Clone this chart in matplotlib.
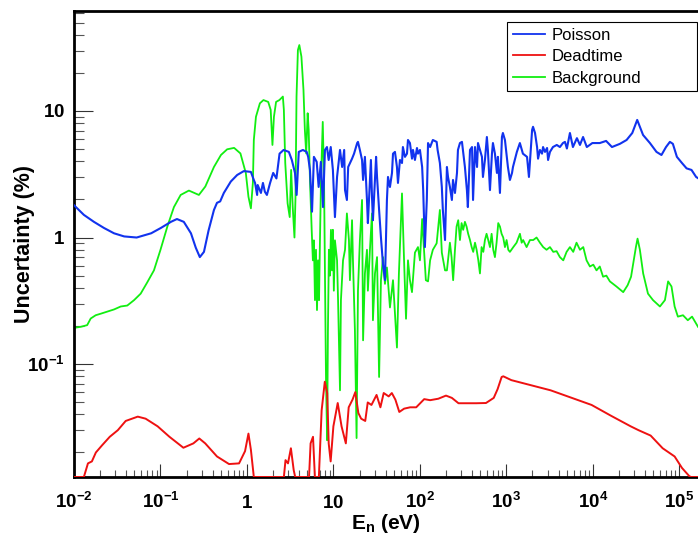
"""
Uncertainty components vs neutron energy (ROOT-style log-log plot).
"""
import numpy as np
import matplotlib
matplotlib.use('Agg')
import matplotlib.pyplot as plt
from matplotlib.ticker import FixedLocator, FixedFormatter, LogLocator, NullFormatter

# Poisson (statistical) uncertainty, %
poisson_energy = [
    0.0100, 0.0130, 0.0170, 0.0222, 0.029, 0.038, 0.053, 0.078, 0.101, 0.132,
    0.155, 0.186, 0.225, 0.256, 0.285, 0.318, 0.36, 0.415, 0.45, 0.49,
    0.54, 0.65, 0.77, 0.92, 1.11, 1.20, 1.24, 1.31, 1.33, 1.45,
    1.53, 1.61, 1.70, 1.85, 2.01, 2.19, 2.38, 2.65, 3.05, 3.30,
    3.59, 3.75, 3.97, 4.43, 4.90, 5.10, 5.35, 5.65, 5.94, 6.40,
    6.74, 7.15, 7.57, 7.97, 8.41, 8.80, 9.30, 9.85, 10.4, 11.0,
    11.9, 12.6, 13.3, 13.6, 14.3, 14.8, 16.4, 17.3, 18.8, 19.2,
    20.2, 21.4, 22.0, 23.1, 24.4, 25.0, 27.1, 27.9, 28.6, 31.1,
    31.9, 33.7, 35.4, 37.4, 39.4, 41.5, 42.7, 45.0, 47.5, 48.8,
    51.4, 54.2, 55.7, 58.7, 62.0, 63.5, 67.1, 70.8, 72.7, 76.6,
    80.9, 83.1, 87.5, 92.4, 94.9, 100, 106, 109, 114, 120,
    124, 131, 141, 156, 160, 170, 179, 184, 195, 205,
    211, 222, 234, 241, 254, 268, 275, 290, 306, 314,
    331, 349, 358, 379, 400, 411, 433, 457, 469, 494,
    521, 535, 564, 594, 610, 645, 680, 698, 736, 776,
    797, 841, 887, 910, 961, 1010, 1040, 1097, 1160, 1190,
    1250, 1320, 1430, 1550, 1730, 1820, 1980, 2030, 2140, 2260,
    2320, 2440, 2580, 2650, 2790, 2950, 3030, 3185, 3450, 3820,
    4150, 4500, 4750, 5000, 5420, 5870, 6530, 7080, 7690, 8500,
    9850, 1.20e4, 1.42e4, 1.66e4, 2.05e4, 2.45e4, 2.85e4, 3.15e4, 3.25e4, 3.49e4,
    3.80e4, 4.56e4, 5.43e4, 6.20e4, 7.00e4, 7.76e4, 8.40e4, 9.35e4, 1.07e5, 1.21e5,
    1.38e5, 1.56e5, 1.70e5,
]
poisson_unc = [
    1.80, 1.51, 1.33, 1.19, 1.08, 1.02, 1.00, 1.08, 1.19, 1.33,
    1.40, 1.33, 1.08, 0.83, 0.70, 0.77, 1.14, 1.65, 1.88, 1.93,
    2.25, 2.77, 3.12, 3.35, 3.30, 2.85, 2.70, 2.17, 2.60, 2.25,
    2.70, 2.30, 2.17, 2.70, 3.24, 2.93, 4.60, 4.92, 4.75, 4.10,
    3.24, 2.17, 4.75, 4.92, 4.75, 4.34, 3.42, 1.60, 4.34, 3.96,
    2.51, 3.96, 1.74, 4.92, 5.19, 4.10, 5.19, 3.42, 1.45, 3.01,
    4.92, 3.61, 4.92, 2.37, 1.98, 3.61, 4.20, 4.60, 5.58, 5.70,
    4.92, 4.10, 2.85, 4.34, 1.98, 1.30, 4.10, 2.08, 1.37, 4.34,
    3.01, 1.65, 1.00, 0.61, 0.46, 1.98, 3.01, 2.51, 3.24, 4.60,
    4.75, 3.61, 2.70, 4.10, 3.88, 5.19, 4.34, 4.60, 5.90, 5.58,
    4.20, 4.92, 4.10, 5.10, 4.60, 4.92, 3.61, 2.37, 0.84, 1.98,
    5.58, 5.19, 5.90, 5.70, 4.92, 3.88, 2.51, 1.65, 0.955, 3.61,
    3.01, 2.51, 1.98, 2.85, 2.25, 3.24, 4.92, 5.58, 5.70, 4.92,
    3.61, 2.37, 1.74, 4.92, 5.19, 1.98, 5.19, 3.61, 5.58, 4.92,
    4.34, 3.01, 4.10, 6.23, 4.92, 2.37, 4.60, 5.58, 4.60, 3.24,
    4.34, 2.25, 6.23, 6.70, 5.90, 4.34, 3.61, 2.85, 3.24, 3.61,
    4.10, 4.75, 5.58, 4.60, 4.34, 3.01, 7.08, 7.50, 6.70, 5.19,
    4.20, 4.92, 4.60, 5.19, 4.75, 5.10, 4.10, 4.75, 5.19, 5.39,
    5.19, 5.58, 5.70, 5.05, 6.70, 5.19, 6.10, 5.39, 6.23, 5.19,
    5.58, 5.58, 5.80, 5.19, 5.50, 5.90, 6.70, 8.00, 8.50, 7.50,
    6.46, 5.58, 4.75, 4.49, 5.19, 5.70, 5.50, 4.34, 3.88, 3.52,
    3.42, 3.01, 2.90,
]

# Background subtraction uncertainty, %
bg_energy = [
    0.0100, 0.0120, 0.0142, 0.0156, 0.0178, 0.0204, 0.0243, 0.029, 0.0347, 0.0413,
    0.0495, 0.059, 0.070, 0.084, 0.100, 0.120, 0.143, 0.171, 0.213, 0.278,
    0.33, 0.415, 0.50, 0.59, 0.71, 0.84, 0.97, 1.04, 1.11, 1.17,
    1.20, 1.27, 1.41, 1.55, 1.76, 1.88, 1.97, 2.05, 2.17, 2.37,
    2.60, 2.67, 2.77, 2.95, 3.12, 3.24, 3.38, 3.54, 3.64, 3.74,
    3.88, 4.03, 4.26, 4.50, 4.67, 4.84, 5.03, 5.17, 5.35, 5.60,
    5.78, 5.94, 6.11, 6.28, 6.45, 6.63, 6.81, 6.98, 7.18, 7.52,
    7.78, 7.99, 8.20, 8.45, 8.63, 8.86, 9.11, 9.35, 9.60, 9.85,
    10.1, 10.4, 11.0, 11.3, 11.9, 12.2, 12.9, 13.6, 14.3, 15.1,
    15.5, 16.4, 16.8, 17.7, 18.5, 19.2, 20.2, 21.4, 22.0, 23.1,
    24.4, 25.0, 26.4, 27.9, 28.6, 30.2, 31.9, 33.7, 35.4, 37.4,
    39.4, 41.5, 45.0, 48.8, 54.2, 57.1, 62.0, 65.5, 69.0, 72.7,
    76.6, 80.9, 87.5, 94.9, 100, 106, 111, 117, 124, 131,
    141, 156, 170, 179, 195, 205, 222, 232, 242, 254,
    265, 277, 290, 303, 316, 331, 346, 361, 379, 396,
    413, 433, 452, 473, 494, 516, 540, 564, 589, 616,
    645, 674, 704, 736, 769, 804, 841, 879, 918, 961,
    1004, 1050, 1097, 1200, 1310, 1432, 1500, 1560, 1710, 1870,
    2040, 2230, 2440, 2660, 2910, 3185, 3480, 3800, 4150, 4540,
    4960, 5420, 5920, 6460, 7080, 7730, 8440, 9230, 1.01e4, 1.10e4,
    1.20e4, 1.31e4, 1.43e4, 1.57e4, 1.87e4, 2.24e4, 2.52e4, 2.76e4, 3.00e4, 3.14e4,
    3.28e4, 3.49e4, 3.81e4, 4.33e4, 4.95e4, 5.95e4, 6.80e4, 7.40e4, 8.10e4, 8.80e4,
    9.60e4, 1.10e5, 1.25e5, 1.40e5, 1.64e5,
]
bg_unc = [
    0.193, 0.197, 0.203, 0.229, 0.243, 0.250, 0.260, 0.270, 0.285, 0.290,
    0.320, 0.360, 0.440, 0.550, 0.800, 1.22, 1.74, 2.17, 2.35, 2.17,
    2.53, 3.61, 4.49, 4.98, 5.11, 4.62, 3.23, 2.10, 1.70, 2.70,
    5.90, 9.00, 11.5, 12.2, 11.8, 10.2, 5.39, 9.00, 11.8, 12.2,
    13.0, 10.2, 3.88, 1.86, 1.45, 3.42, 1.74, 1.00, 2.10, 13.0,
    30.3, 33.2, 26.9, 14.7, 7.08, 4.62, 9.60, 7.08, 2.85, 1.15,
    0.66, 0.95, 0.32, 0.80, 0.267, 0.66, 0.32, 0.95, 2.85, 8.20,
    2.85, 0.46, 0.075, 0.025, 0.185, 0.80, 0.50, 1.15, 0.55, 1.15,
    0.38, 0.95, 0.66, 0.32, 0.062, 0.32, 0.66, 0.80, 1.55, 0.95,
    0.46, 1.37, 0.66, 0.185, 0.026, 0.38, 0.95, 1.98, 0.154, 0.52,
    0.80, 0.38, 0.80, 1.55, 0.222, 0.52, 0.70, 0.079, 0.46, 0.70,
    0.43, 0.58, 0.28, 0.46, 0.135, 0.52, 2.23, 0.66, 0.228, 0.66,
    0.46, 0.37, 0.76, 0.84, 0.66, 1.40, 0.84, 0.46, 0.45, 0.66,
    0.80, 0.90, 1.65, 0.76, 0.55, 0.55, 0.91, 0.70, 0.46, 0.80,
    1.22, 1.37, 0.955, 1.30, 1.15, 1.33, 1.22, 1.07, 0.955, 0.84,
    0.77, 0.91, 0.80, 0.66, 0.52, 0.84, 0.77, 0.955, 1.07, 0.955,
    0.84, 1.07, 0.80, 0.70, 0.91, 1.30, 1.22, 1.07, 1.00, 0.84,
    0.955, 0.80, 0.77, 0.84, 0.91, 1.07, 0.91, 0.955, 0.84, 0.955,
    0.955, 1.00, 0.91, 0.84, 0.80, 0.84, 0.77, 0.78, 0.70, 0.66,
    0.77, 0.84, 0.77, 0.91, 0.80, 0.84, 0.66, 0.59, 0.61, 0.55,
    0.59, 0.49, 0.50, 0.45, 0.41, 0.37, 0.42, 0.49, 0.70, 0.84,
    0.98, 0.80, 0.52, 0.36, 0.32, 0.285, 0.32, 0.45, 0.41, 0.285,
    0.237, 0.243, 0.222, 0.237, 0.197,
]

# Dead-time correction uncertainty, % (0.0128 = sits on the frame)
dt_energy = [
    0.0100, 0.0130, 0.0145, 0.0161, 0.0179, 0.0210, 0.0259, 0.0321, 0.0396, 0.0546,
    0.0673, 0.0926, 0.127, 0.184, 0.240, 0.281, 0.329, 0.45, 0.62, 0.81,
    0.95, 1.04, 1.11, 1.20, 2.67, 2.79, 2.98, 3.22, 3.47, 3.61,
    5.22, 5.44, 5.80, 6.10, 6.78, 7.30, 7.94, 8.46, 8.81, 9.28,
    9.98, 11.2, 12.4, 13.9, 15.0, 16.6, 17.9, 19.4, 20.9, 23.3,
    24.9, 27.5, 31.5, 34.9, 38.1, 43.5, 47.3, 52.0, 57.7, 65.6,
    77.0, 90.5, 112, 131, 163, 200, 234, 279, 364, 448,
    580, 713, 790, 880, 920, 1140, 3240, 9650, 1.62e4, 2.73e4,
    3.37e4, 4.65e4, 6.40e4, 8.80e4, 1.07e5, 1.30e5, 1.36e5, 1.64e5,
]
dt_unc = [
    0.0128, 0.0128, 0.0164, 0.0170, 0.0200, 0.0227, 0.0266, 0.0300, 0.0355, 0.0384,
    0.0370, 0.0322, 0.0266, 0.0218, 0.0236, 0.0258, 0.0236, 0.0186, 0.0162, 0.0164,
    0.0205, 0.0282, 0.0210, 0.0128, 0.0128, 0.0174, 0.0164, 0.0216, 0.0145, 0.0128,
    0.0128, 0.0236, 0.0266, 0.0128, 0.0128, 0.0431, 0.0725, 0.0590, 0.0236, 0.0170,
    0.0322, 0.0492, 0.0322, 0.0236, 0.0455, 0.0523, 0.0600, 0.0410, 0.0370, 0.0355,
    0.0497, 0.0475, 0.0570, 0.0455, 0.0590, 0.0555, 0.0590, 0.0523, 0.0418, 0.0444,
    0.0455, 0.0455, 0.0528, 0.0518, 0.0532, 0.0563, 0.0540, 0.0490, 0.0490, 0.0490,
    0.0492, 0.0540, 0.0633, 0.0790, 0.0800, 0.0746, 0.0620, 0.0475, 0.0390, 0.0322,
    0.0300, 0.0272, 0.0216, 0.0186, 0.0151, 0.0130, 0.0128, 0.0128,
]

x_ticks = [1e-2, 1e-1, 1, 10, 1e2, 1e3, 1e4, 1e5]
x_tick_labels = ['$10^{-2}$', '$10^{-1}$', '$1$', '$10$',
                 '$10^{2}$', '$10^{3}$', '$10^{4}$', '$10^{5}$']
y_ticks = [0.1, 1, 10]
y_tick_labels = ['$10^{-1}$', '$1$', '$10$']

# ROOT-like fonts: Helvetica bold for axes
plt.rcParams['font.family'] = ['Liberation Sans', 'DejaVu Sans']
plt.rcParams['mathtext.fontset'] = 'custom'
plt.rcParams['mathtext.rm'] = 'Liberation Sans:bold'
plt.rcParams['mathtext.bf'] = 'Liberation Sans:bold'
plt.rcParams['mathtext.it'] = 'Liberation Sans:bold'
plt.rcParams['mathtext.default'] = 'bf'

fig = plt.figure(figsize=(6.98, 5.34), dpi=100)
ax = fig.add_axes([74 / 698, 57 / 534, 624 / 698, 466 / 534])

BLUE = '#1133ee'
RED = '#ee1111'
GREEN = '#11ee11'

l_bg, = ax.plot(bg_energy, bg_unc, color=GREEN, linewidth=1.3, label='Background', zorder=2)
l_poi, = ax.plot(poisson_energy, poisson_unc, color=BLUE, linewidth=1.5, label='Poisson', zorder=3)
l_dt, = ax.plot(dt_energy, dt_unc, color=RED, linewidth=1.4, label='Deadtime', zorder=4)

ax.set_xscale('log')
ax.set_yscale('log')
ax.set_xlim(0.01, 1.64e5)
ax.set_ylim(0.0128, 61.7)

# Ticks
ax.xaxis.set_major_locator(FixedLocator(x_ticks))
ax.xaxis.set_major_formatter(FixedFormatter(x_tick_labels))
ax.xaxis.set_minor_locator(LogLocator(base=10, subs=np.arange(2, 10), numticks=30))
ax.xaxis.set_minor_formatter(NullFormatter())
ax.yaxis.set_major_locator(FixedLocator(y_ticks))
ax.yaxis.set_major_formatter(FixedFormatter(y_tick_labels))
ax.yaxis.set_minor_locator(LogLocator(base=10, subs=np.arange(2, 10), numticks=30))
ax.yaxis.set_minor_formatter(NullFormatter())

ax.tick_params(axis='x', which='major', direction='in', length=9.4, width=0.8,
               pad=22, labelsize=13.5, top=False, color='#333333')
ax.tick_params(axis='x', which='minor', direction='in', length=5, width=0.8,
               top=False, color='#555555')
ax.tick_params(axis='y', which='major', direction='in', length=13.7, width=0.8,
               pad=6.5, labelsize=13.5, right=False, color='#333333')
ax.tick_params(axis='y', which='minor', direction='in', length=7.2, width=0.8,
               right=False, color='#555555')
plt.setp(ax.get_xticklabels(), va='baseline')

for side in ['left', 'bottom', 'top']:
    ax.spines[side].set_linewidth(2)
ax.spines['right'].set_visible(False)

# Axis titles
ax.set_ylabel('Uncertainty (%)', fontsize=15.5, fontweight='bold')
ax.yaxis.set_label_coords(-0.0625, 0.5)
ax.set_xlabel('$E_{n}$ (eV)', fontsize=15, fontweight='bold')
ax.xaxis.set_label_coords(0.5, -0.0755)

# Legend
leg = ax.legend(
    handles=[l_poi, l_dt, l_bg],
    loc='upper left',
    bbox_to_anchor=(507 / 698, 442 / 534, 190 / 698, 70 / 534),
    bbox_transform=fig.transFigure,
    mode='expand',
    borderaxespad=0,
    fontsize=12,
    frameon=True,
    fancybox=False,
    framealpha=1,
    edgecolor='black',
    borderpad=0.35,
    labelspacing=0.38,
    handlelength=1.9,
    handletextpad=0.45,
)
leg.get_frame().set_linewidth(0.8)
for line in leg.get_lines():
    line.set_linewidth(1.3)

fig.savefig('out.png', dpi=100)
plt.close(fig)
